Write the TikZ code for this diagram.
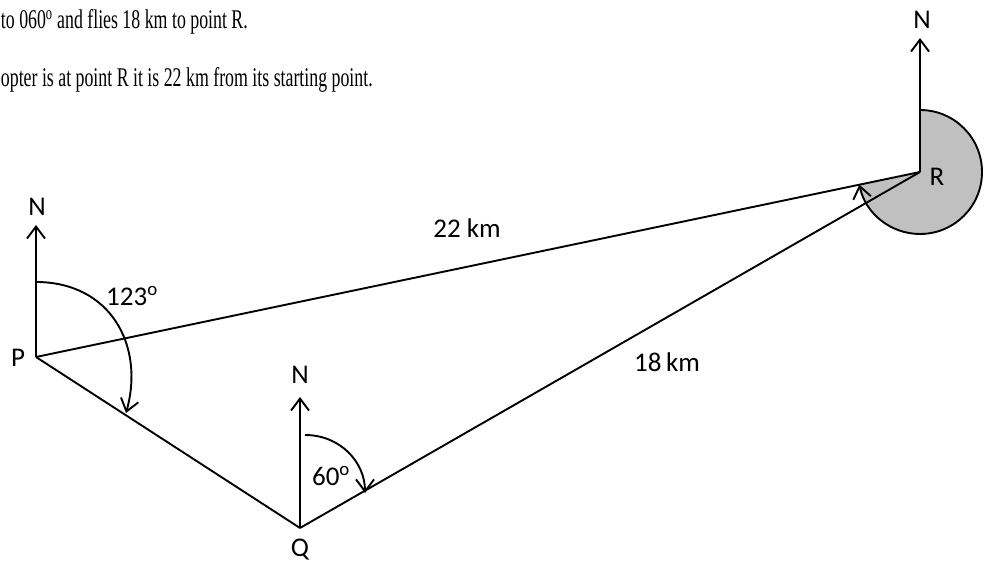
\documentclass[tikz,border=0pt]{standalone}
\usepackage{fontspec}
\setmainfont{Carlito}
\newfontfamily\topfont{Liberation Serif}[FakeStretch=0.66]
\usetikzlibrary{arrows.meta}
\definecolor{sectorgray}{RGB}{192,192,192}
\begin{document}
\begin{tikzpicture}[x=1pt,y=1pt,line width=1.9pt,
  barb/.style={-{Straight Barb[length=12pt,width=18pt]}},
  lbl/.style={inner sep=0pt,font=\fontsize{27}{31}\selectfont},
  toptext/.style={inner sep=0pt,anchor=base west,font=\topfont\fontsize{27}{32}\selectfont}]
\useasboundingbox (0,0) rectangle (987,562);
% top text
\node[toptext] (t1) at (0,533) {to 060\textsuperscript{o} and flies 18\,km to point R.};
\node[toptext] (t2) at (0,475) {opter is at point R it is 22\,km from its starting point.};
% points
\coordinate (P) at (36,205);
\coordinate (Q) at (300,34);
\coordinate (R) at (920,390);
\coordinate (NP) at (36,337);
\coordinate (NQ) at (300,165);
\coordinate (NR) at (920,524);
\coordinate (RS) at (920,452);
% sector at R
\fill[sectorgray] (R) -- (RS) arc[start angle=90,end angle=-168.18,radius=62] -- cycle;
\draw[barb] (RS) arc[start angle=90,end angle=-168.18,radius=62];
% triangle
\draw (P) -- (Q);
\draw (Q) -- (R);
\draw (R) -- (P);
% north arrows
\draw[barb] (P) -- (NP);
\draw[barb] (Q) -- (NQ);
\draw[barb] (R) -- (NR);
% bearing arcs
\coordinate (PA) at (36,280);
\coordinate (PB) at (126,149);
\draw[barb] (PA) .. controls (110,280) and (145,217) .. (PB);
\coordinate (QA) at (305,127);
\coordinate (QB) at (365,69);
\draw[barb] (QA) .. controls (340,127) and (365,100) .. (QB);
% labels
\node[lbl] (nP) at (37,355) {N};
\node[lbl] (nQ) at (300,187) {N};
\node[lbl] (nR) at (922,542) {N};
\node[lbl] (lP) at (18,204) {P};
\node[lbl] (lQ) at (300,12) {Q};
\node[lbl] (lR) at (937,385) {R};
\node[lbl] (d22) at (467,334) {22 km};
\node[lbl] (d18) at (667,200) {18\,km};
\node[lbl] (a123) at (132,266) {123\textsuperscript{o}};
\node[lbl] (a60) at (331,86) {60\textsuperscript{o}};
\end{tikzpicture}
\end{document}
